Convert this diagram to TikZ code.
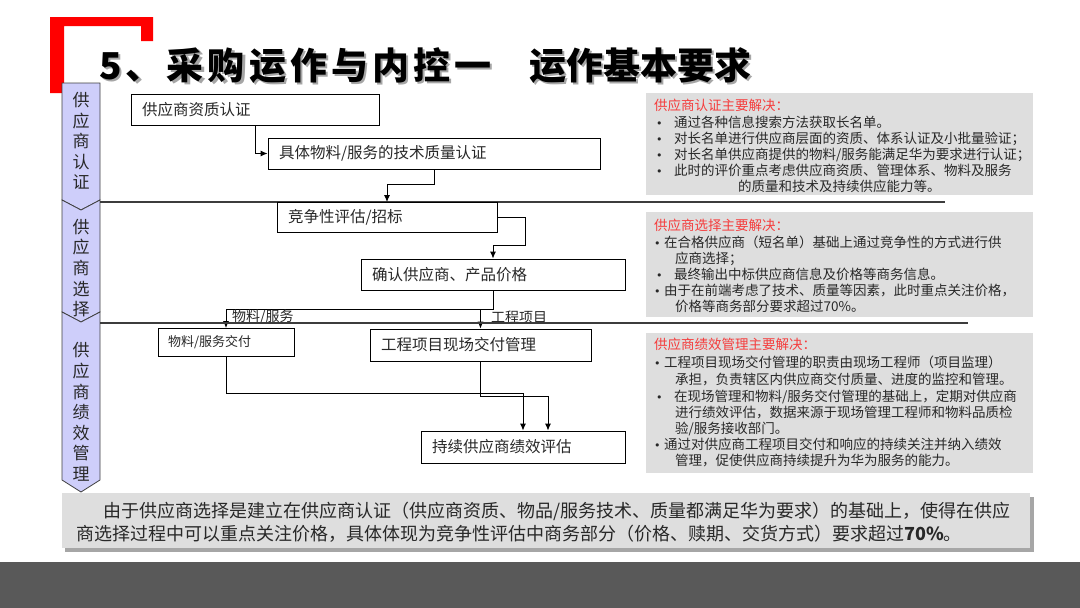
\documentclass[tikz,border=0pt]{standalone}
\usepackage{fontspec}
\setmainfont{Noto Sans CJK SC}
\newfontfamily\titlefont[LetterSpace=11]{Noto Sans CJK SC}
\newfontfamily\bulletfont{DejaVu Sans}
\usetikzlibrary{arrows.meta}
\definecolor{lav}{RGB}{206,206,250}
\definecolor{boxgray}{RGB}{222,222,222}
\definecolor{txt}{RGB}{40,40,40}
\definecolor{redtitle}{RGB}{245,60,60}
\definecolor{band}{RGB}{89,89,89}
\definecolor{lane}{RGB}{60,60,60}
\newcommand{\shadowtext}[1]{\makebox[0pt][l]{\hspace{2.5pt}\raisebox{-2.5pt}{\color{black!35}#1}}#1}
\begin{document}
\begin{tikzpicture}[x=1pt,y=-1pt,
  flow/.style={draw=black, line width=0.8pt, fill=white, align=left, inner xsep=11pt, inner ysep=0pt,
    font=\fontsize{15.5}{18}\selectfont, text=txt},
  arr/.style={draw=black, line width=1pt, -{Latex[length=7pt,width=6pt]}},
  tx/.style={anchor=base west, inner sep=0pt, font=\fontsize{13.5}{15}\selectfont, text=txt},
  bul/.style={anchor=base west, inner sep=0pt, font=\bulletfont\fontsize{11}{13}\selectfont, text=txt},
  rt/.style={tx, text=redtitle},
  lbl/.style={anchor=west, inner sep=0pt, font=\fontsize{14}{16}\selectfont, text=txt},
  chev/.style={fill=lav, draw=black!75, line width=0.8pt},
  chevtxt/.style={align=center, inner sep=0pt, font=\fontsize{17}{20.6}\selectfont, text=txt},
  lanel/.style={draw=lane, line width=1.1pt},
  infobox/.style={fill=boxgray},
  bt/.style={anchor=base west, inner sep=0pt, font=\fontsize{18}{20}\selectfont, text=txt},
  ttl/.style={anchor=base west, inner sep=0pt, text=black}
]
\useasboundingbox (0,0) rectangle (1080,608);
\fill[white] (0,0) rectangle (1080,608);

% red bracket
\fill[red] (50,17) -- (153,17) -- (153,41) -- (141,41) -- (141,26) -- (64,26) -- (64,93) -- (50,93) -- cycle;

% title with shadow
\node[ttl, font=\titlefont\bfseries\fontsize{37}{40}\selectfont] (title1) at (99,79) {\shadowtext{5、采购运作与内控一}};
\node[ttl, font=\bfseries\fontsize{37}{40}\selectfont] (title2) at (529,79) {\shadowtext{运作基本要求}};

% chevrons
\filldraw[chev] (62,83) -- (100,83) -- (100,200) -- (81,210) -- (62,200) -- cycle;
\filldraw[chev] (62,200) -- (81,210) -- (100,200) -- (100,312) -- (81,322) -- (62,312) -- cycle;
\filldraw[chev] (62,312) -- (81,322) -- (100,312) -- (100,480) -- (81,492) -- (62,480) -- cycle;
\node[chevtxt] (c1) at (81,141) {供\\应\\商\\认\\证};
\node[chevtxt] (c2) at (81,268) {供\\应\\商\\选\\择};
\node[chevtxt] (c3) at (81,412) {供\\应\\商\\绩\\效\\管\\理};

% lane separator 1
\draw[lanel] (100,202) -- (945,202);

% flow boxes
\node[flow, minimum height=31pt, text width=226pt] (b1) at (255,110) {供应商资质认证};
\node[flow, minimum height=31pt, text width=310pt] (b2) at (434,153.5) {具体物料/服务的技术质量认证};
\node[flow, minimum height=30pt, text width=198pt] (b3) at (387,217.5) {竞争性评估/招标};
\node[flow, minimum height=31pt, text width=242pt] (b4) at (493,274.5) {确认供应商、产品价格};
\node[flow, minimum height=28pt, inner xsep=10pt, text width=116pt, font=\fontsize{13}{15}\selectfont] (b5) at (226,342.5) {物料/服务交付};
\node[flow, minimum height=32pt, text width=199pt] (b6) at (480.5,345) {工程项目现场交付管理};
\node[flow, minimum height=32pt, text width=182pt] (b7) at (523,447) {持续供应商绩效评估};

% connectors
\draw[arr] (b1.south) |- (b2.west);
\coordinate (k2) at (434,184);
\draw[arr] (b2.south) -- (k2) -| (b3.north);
\coordinate (k3) at (525,245);
\draw[arr] (b3.east) -| (k3) -| (b4.north);
\coordinate (k4) at (493,309);
\draw[arr] (b4.south) -- (k4) -| (b5.north);
\draw[arr] (k4) -| (b6.north);
\coordinate (k5) at (523,393);
\draw[arr] (b5.south) |- (k5) -- (b7.north);
\coordinate (k6) at (548,396);
\draw[arr] (b6.south) |- (k6) -- (k6 |- b7.north);

% branch labels
\node[lbl] (l1) at (232,317) {物料/服务};
\node[lbl] (l2) at (491,317) {工程项目};

% lane separator 2
\draw[lanel] (100,323) -- (968,323);

% right info boxes
\fill[infobox] (646,93) rectangle (1033,195);
\fill[infobox] (646,212) rectangle (1033,317);
\fill[infobox] (646,333) rectangle (1033,473);

\node[rt] (r1t) at (654,110) {供应商认证主要解决：};
\node[bul] (r1b1) at (656,127) {•};
\node[tx] (r1l1) at (674,127) {通过各种信息搜索方法获取长名单。};
\node[bul] (r1b2) at (656,143) {•};
\node[tx] (r1l2) at (674,143) {对长名单进行供应商层面的资质、体系认证及小批量验证；};
\node[bul] (r1b3) at (656,159) {•};
\node[tx] (r1l3) at (674,159) {对长名单供应商提供的物料/服务能满足华为要求进行认证；};
\node[bul] (r1b4) at (656,175) {•};
\node[tx] (r1l4) at (674,175) {此时的评价重点考虑供应商资质、管理体系、物料及服务};
\node[tx] (r1l5) at (738,191) {的质量和技术及持续供应能力等。};

\node[rt] (r2t) at (654,230) {供应商选择主要解决：};
\node[bul] (r2b1) at (654,247) {•};
\node[tx] (r2l1) at (664,247) {在合格供应商（短名单）基础上通过竞争性的方式进行供};
\node[tx] (r2l2) at (675,263) {应商选择；};
\node[bul] (r2b2) at (656,279) {•};
\node[tx] (r2l3) at (674,279) {最终输出中标供应商信息及价格等商务信息。};
\node[bul] (r2b3) at (654,295) {•};
\node[tx] (r2l4) at (664,295) {由于在前端考虑了技术、质量等因素，此时重点关注价格，};
\node[tx] (r2l5) at (675,311) {价格等商务部分要求超过70\%。};

\node[rt] (r3t) at (654,349) {供应商绩效管理主要解决：};
\node[bul] (r3b1) at (654,367) {•};
\node[tx] (r3l1) at (664,367) {工程项目现场交付管理的职责由现场工程师（项目监理）};
\node[tx] (r3l2) at (675,384) {承担，负责辖区内供应商交付质量、进度的监控和管理。};
\node[bul] (r3b2) at (656,401) {•};
\node[tx] (r3l3) at (674,401) {在现场管理和物料/服务交付管理的基础上，定期对供应商};
\node[tx] (r3l4) at (675,417) {进行绩效评估，数据来源于现场管理工程师和物料品质检};
\node[tx] (r3l5) at (675,433) {验/服务接收部门。};
\node[bul] (r3b3) at (654,449) {•};
\node[tx] (r3l6) at (664,449) {通过对供应商工程项目交付和响应的持续关注并纳入绩效};
\node[tx] (r3l7) at (675,465) {管理，促使供应商持续提升为华为服务的能力。};

% bottom summary box
\fill[black!35] (65,497) rectangle (1034,552);
\fill[boxgray] (62,493) rectangle (1030,548);
\node[bt] (s1) at (103,517) {由于供应商选择是建立在供应商认证（供应商资质、物品/服务技术、质量都满足华为要求）的基础上，使得在供应};
\node[bt] (s2) at (76,540) {商选择过程中可以重点关注价格，具体体现为竞争性评估中商务部分（价格、赎期、交货方式）要求超过\textbf{70\%}。};

% bottom band
\fill[band] (0,562) rectangle (1080,608);
\end{tikzpicture}
\end{document}
